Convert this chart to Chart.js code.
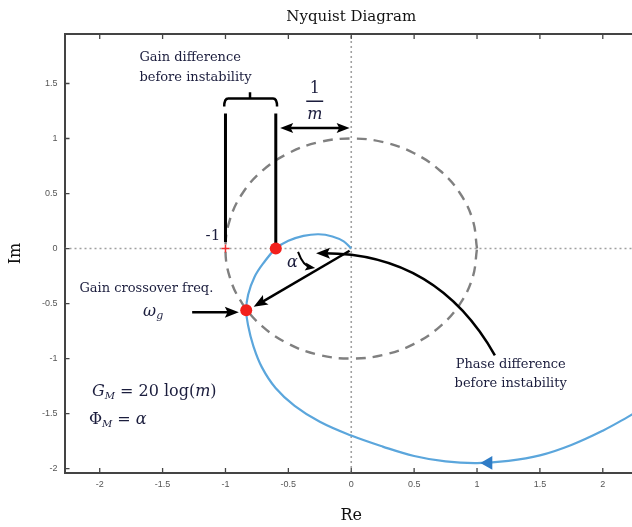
<!DOCTYPE html>
<html>
<head>
<meta charset="utf-8">
<title>Nyquist Diagram</title>
<script src="https://cdn.jsdelivr.net/npm/chart.js@4/dist/chart.umd.min.js"></script>
<style>
  html, body { margin: 0; padding: 0; background: #fff; overflow: hidden; }
  #wrap { position: relative; width: 646px; height: 527px; }
</style>
</head>
<body>
<div id="wrap"><canvas id="nyq"></canvas></div>
<script>
const xTicks = [-2, -1.5, -1, -0.5, 0, 0.5, 1, 1.5, 2];
const yTicks = [-2, -1.5, -1, -0.5, 0, 0.5, 1, 1.5];

// open loop response, from low frequency (right) into the origin
const nyqRe = [2.35, 2.20, 2.00, 1.75, 1.50, 1.25, 1.00, 0.75, 0.50, 0.25, 0.00, -0.25, -0.45, -0.60, -0.71, -0.78, -0.82, -0.835, -0.82, -0.77, -0.69, -0.60, -0.50, -0.38, -0.26, -0.15, -0.06, 0];
const nyqIm = [-1.43, -1.53, -1.655, -1.785, -1.88, -1.93, -1.95, -1.935, -1.885, -1.80, -1.70, -1.575, -1.43, -1.27, -1.08, -0.88, -0.70, -0.56, -0.42, -0.26, -0.12, 0, 0.07, 0.115, 0.13, 0.11, 0.065, 0];

// unit circle, every 15 degrees
const circleRe = [1, 0.966, 0.866, 0.707, 0.5, 0.259, 0, -0.259, -0.5, -0.707, -0.866, -0.966, -1, -0.966, -0.866, -0.707, -0.5, -0.259, 0, 0.259, 0.5, 0.707, 0.866, 0.966, 1];
const circleIm = [0, 0.259, 0.5, 0.707, 0.866, 0.966, 1, 0.966, 0.866, 0.707, 0.5, 0.259, 0, -0.259, -0.5, -0.707, -0.866, -0.966, -1, -0.966, -0.866, -0.707, -0.5, -0.259, 0];

// gain margin crossing and gain crossover point
const markRe = [-0.6, -0.835];
const markIm = [0, -0.56];
// critical point
const critRe = [-1];
const critIm = [0];
// direction arrow on the curve
const dirRe = [1.09];
const dirIm = [-1.948];

const X_MIN = -2.28, X_MAX = 2.28, Y_MIN = -2.04, Y_MAX = 1.95;

const pts = (xs, ys) => xs.map((v, i) => ({ x: v, y: ys[i] }));

const SERIF = '"DejaVu Serif", serif';
const INK = '#1b1d3d';

function toPx(chart, x, y) {
  return [chart.scales.x.getPixelForValue(x), chart.scales.y.getPixelForValue(y)];
}

function head(ctx, tx, ty, ang, len, wid) {
  ctx.save();
  ctx.translate(tx, ty);
  ctx.rotate(ang);
  ctx.beginPath();
  ctx.moveTo(0, 0);
  ctx.lineTo(-len, wid / 2);
  ctx.lineTo(-len * 0.8, 0);
  ctx.lineTo(-len, -wid / 2);
  ctx.closePath();
  ctx.fill();
  ctx.restore();
}

// text made of runs: [text, font, dy]
function runs(ctx, x, y, parts) {
  let cx = x;
  parts.forEach(([t, f, dy]) => {
    ctx.font = f;
    ctx.fillText(t, cx, y + (dy || 0));
    cx += ctx.measureText(t).width;
  });
}

const frame = {
  id: 'frame',
  afterDraw(chart) {
    const { ctx, chartArea: a, scales: { x, y } } = chart;
    ctx.save();
    ctx.strokeStyle = '#444';
    ctx.lineWidth = 2;
    ctx.beginPath();
    ctx.moveTo(a.left, a.top);
    ctx.lineTo(a.right, a.top);
    ctx.stroke();
    ctx.lineWidth = 1.3;
    ctx.beginPath();
    xTicks.forEach(v => {
      const p = x.getPixelForValue(v);
      ctx.moveTo(p, a.bottom); ctx.lineTo(p, a.bottom - 5);
      ctx.moveTo(p, a.top); ctx.lineTo(p, a.top + 5);
    });
    yTicks.forEach(v => {
      const p = y.getPixelForValue(v);
      ctx.moveTo(a.left, p); ctx.lineTo(a.left + 5, p);
    });
    ctx.stroke();
    ctx.restore();
  }
};

const notes = {
  id: 'notes',
  afterDatasetDraw(chart, args) {
    if (args.index !== 2) return;
    const ctx = chart.ctx;
    const P = (x, y) => toPx(chart, x, y);
    ctx.save();
    ctx.strokeStyle = '#000';
    ctx.fillStyle = '#000';
    ctx.lineCap = 'butt';

    // gain margin verticals
    ctx.lineWidth = 3;
    let a = P(-1, 1.227), b = P(-1, 0.06);
    ctx.beginPath(); ctx.moveTo(a[0], a[1]); ctx.lineTo(b[0], b[1]);
    a = P(-0.6, 1.227); b = P(-0.6, 0);
    ctx.moveTo(a[0], a[1]); ctx.lineTo(b[0], b[1]);
    ctx.stroke();

    // bracket
    ctx.lineWidth = 2.5;
    ctx.lineJoin = 'round';
    const l = P(-1.01, 1.29), lt = P(-1.01, 1.364), r = P(-0.59, 1.29), rt = P(-0.59, 1.364);
    const n = P(-0.805, 1.364), nt = P(-0.805, 1.42);
    ctx.beginPath();
    ctx.moveTo(l[0], l[1]);
    ctx.quadraticCurveTo(lt[0], lt[1], lt[0] + 4, lt[1]);
    ctx.lineTo(rt[0] - 4, rt[1]);
    ctx.quadraticCurveTo(rt[0], rt[1], r[0], r[1]);
    ctx.moveTo(n[0], n[1]); ctx.lineTo(nt[0], nt[1]);
    ctx.stroke();

    // 1/m span arrow
    ctx.lineWidth = 2.5;
    a = P(-0.565, 1.096); b = P(-0.013, 1.096);
    ctx.beginPath(); ctx.moveTo(a[0] + 8, a[1]); ctx.lineTo(b[0] - 8, b[1]); ctx.stroke();
    head(ctx, a[0], a[1], Math.PI, 13, 10);
    head(ctx, b[0], b[1], 0, 13, 10);

    // origin to crossover point
    a = P(-0.013, -0.02); b = P(-0.776, -0.53);
    let ang = Math.atan2(b[1] - a[1], b[0] - a[0]);
    ctx.beginPath(); ctx.moveTo(a[0], a[1]);
    ctx.lineTo(b[0] - 9 * Math.cos(ang), b[1] - 9 * Math.sin(ang)); ctx.stroke();
    head(ctx, b[0], b[1], ang, 14, 11);

    // arrow at crossover frequency label
    a = P(-1.265, -0.58); b = P(-0.894, -0.58);
    ctx.beginPath(); ctx.moveTo(a[0], a[1]); ctx.lineTo(b[0] - 9, b[1]); ctx.stroke();
    head(ctx, b[0], b[1], 0, 14, 11);

    // small alpha arrow
    ctx.lineWidth = 2;
    a = P(-0.423, -0.031); let c = P(-0.381, -0.161); b = P(-0.287, -0.176);
    ctx.beginPath(); ctx.moveTo(a[0], a[1]); ctx.quadraticCurveTo(c[0], c[1], b[0] - 5, b[1] - 1); ctx.stroke();
    head(ctx, b[0], b[1], Math.atan2(b[1] - c[1], b[0] - c[0]), 10, 8);

    // phase difference pointer
    ctx.lineWidth = 2.5;
    a = P(1.142, -0.97); c = P(0.682, -0.043); b = P(-0.28, -0.043);
    ctx.beginPath(); ctx.moveTo(a[0], a[1]); ctx.quadraticCurveTo(c[0], c[1], b[0] + 8, b[1]); ctx.stroke();
    head(ctx, b[0], b[1], Math.atan2(b[1] - c[1], b[0] - c[0]), 14, 11);
    ctx.restore();
  },
  afterDraw(chart) {
    const ctx = chart.ctx;
    const P = (x, y) => toPx(chart, x, y);
    ctx.save();
    ctx.fillStyle = INK;
    ctx.textBaseline = 'middle';

    ctx.font = '13px ' + SERIF;
    ctx.textAlign = 'left';
    let p = P(-1.684, 1.736); ctx.fillText('Gain difference', p[0], p[1]);
    p = P(-1.684, 1.555); ctx.fillText('before instability', p[0], p[1]);

    ctx.textAlign = 'center';
    p = P(-1.629, -0.361); ctx.fillText('Gain crossover freq.', p[0], p[1]);
    p = P(1.268, -1.052); ctx.fillText('Phase difference', p[0], p[1]);
    p = P(1.268, -1.225); ctx.fillText('before instability', p[0], p[1]);

    ctx.font = '15px ' + SERIF;
    p = P(-1.10, 0.112); ctx.fillText('-1', p[0], p[1]);

    // 1/m
    ctx.font = '16px ' + SERIF;
    p = P(-0.289, 1.455); ctx.fillText('1', p[0], p[1]);
    ctx.font = 'italic 16px ' + SERIF;
    p = P(-0.289, 1.212); ctx.fillText('m', p[0], p[1]);
    ctx.strokeStyle = INK; ctx.lineWidth = 1.5;
    const b0 = P(-0.358, 1.339), b1 = P(-0.223, 1.339);
    ctx.beginPath(); ctx.moveTo(b0[0], b0[1]); ctx.lineTo(b1[0], b1[1]); ctx.stroke();

    p = P(-0.468, -0.13);
    ctx.font = 'italic 16px ' + SERIF; ctx.fillText('α', p[0], p[1]);

    ctx.textAlign = 'left';
    p = P(-1.655, -0.579);
    runs(ctx, p[0], p[1], [['ω', 'italic 16px ' + SERIF], ['g', 'italic 11px ' + SERIF, 4]]);

    p = P(-2.062, -1.306);
    runs(ctx, p[0], p[1], [
      ['G', 'italic 16px ' + SERIF], ['M', 'italic 10px ' + SERIF, 4],
      [' = 20 log(', '16px ' + SERIF], ['m', 'italic 16px ' + SERIF], [')', '16px ' + SERIF]
    ]);
    p = P(-2.086, -1.561);
    runs(ctx, p[0], p[1], [
      ['Φ', '16px ' + SERIF], ['M', 'italic 10px ' + SERIF, 4],
      [' = ', '16px ' + SERIF], ['α', 'italic 16px ' + SERIF]
    ]);
    ctx.restore();
  }
};

new Chart(document.getElementById('nyq'), {
  type: 'scatter',
  data: {
    datasets: [
      { data: pts(markRe, markIm), pointRadius: 6, pointBackgroundColor: '#f2201c', pointBorderWidth: 0, showLine: false },
      { data: pts(critRe, critIm), pointStyle: 'cross', pointRadius: 4, pointBorderColor: '#ee3030', pointBorderWidth: 1.5, showLine: false },
      { data: pts(dirRe, dirIm), pointStyle: 'triangle', rotation: -90, pointRadius: 8, pointBackgroundColor: '#2f7cc6', pointBorderWidth: 0, showLine: false },
      { data: pts(nyqRe, nyqIm), showLine: true, borderColor: '#5ba6dc', borderWidth: 2.2, tension: 0.4, pointRadius: 0 },
      { data: pts(circleRe, circleIm), showLine: true, borderColor: '#808080', borderWidth: 2.4, borderDash: [10, 7], tension: 0.4, pointRadius: 0 },
      { data: [{ x: X_MIN, y: 0 }, { x: X_MAX, y: 0 }], showLine: true, borderColor: '#a0a0a0', borderWidth: 1.6, borderDash: [2, 3], pointRadius: 0 },
      { data: [{ x: 0, y: Y_MIN }, { x: 0, y: Y_MAX }], showLine: true, borderColor: '#a0a0a0', borderWidth: 1.6, borderDash: [2, 3], pointRadius: 0 }
    ]
  },
  options: {
    responsive: true,
    maintainAspectRatio: false,
    animation: false,
    layout: { padding: 0 },
    plugins: {
      legend: { display: false },
      tooltip: { enabled: false },
      title: {
        display: true,
        text: 'Nyquist Diagram',
        fullSize: false,
        color: '#111',
        font: { family: SERIF, size: 15, weight: 'normal' },
        padding: { top: 8, bottom: 8 }
      }
    },
    scales: {
      x: {
        type: 'linear', min: X_MIN, max: X_MAX,
        afterBuildTicks: s => { s.ticks = xTicks.map(v => ({ value: v })); },
        afterFit: s => { s.height = 54; },
        grid: { display: false, drawTicks: false },
        border: { display: true, color: '#444', width: 2 },
        ticks: { padding: 6, color: '#555', font: { family: 'Liberation Sans', size: 9 }, callback: v => String(v), maxRotation: 0 },
        title: { display: true, text: 'Re', color: '#111', font: { family: SERIF, size: 16 }, padding: { top: 0, bottom: 2 } }
      },
      y: {
        type: 'linear', min: Y_MIN, max: Y_MAX,
        afterBuildTicks: s => { s.ticks = yTicks.map(v => ({ value: v })); },
        afterFit: s => { s.width = 64.5; },
        grid: { display: false, drawTicks: false },
        border: { display: true, color: '#444', width: 2 },
        ticks: { padding: 7, color: '#555', font: { family: 'Liberation Sans', size: 9 }, callback: v => String(v) },
        title: { display: true, text: 'Im', color: '#111', font: { family: SERIF, size: 16 }, padding: { top: 6, bottom: 0 } }
      }
    }
  },
  plugins: [frame, notes]
});
</script>
</body>
</html>
